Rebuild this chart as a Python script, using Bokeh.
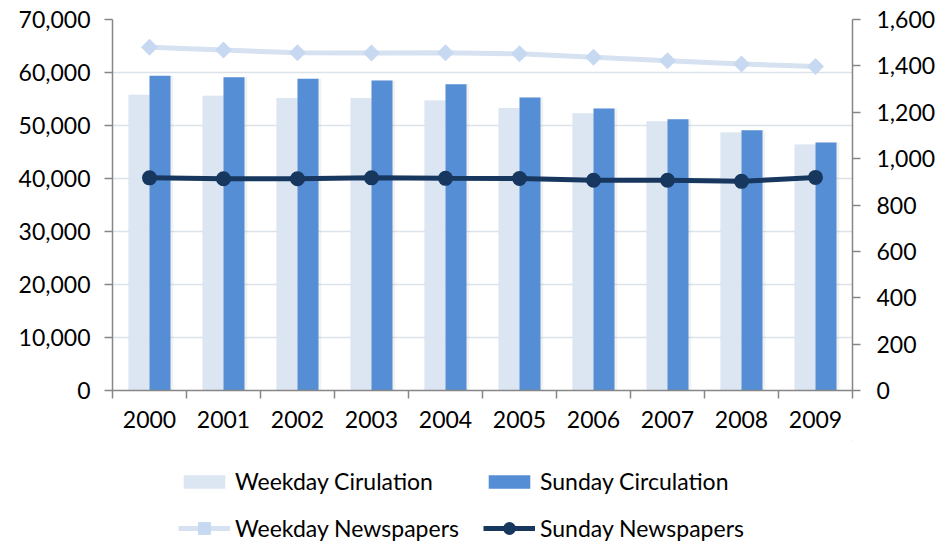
import math
from bokeh.plotting import figure
from bokeh.layouts import column
from bokeh.models import (ColumnDataSource, LinearAxis, Range1d, FixedTicker,
                          NumeralTickFormatter, Legend, LegendItem, Grid)
from bokeh.transform import dodge
from bokeh.embed import file_html
from bokeh.resources import INLINE

# Newspaper circulation (thousands) and number of newspapers, 2000-2009
years = ["2000", "2001", "2002", "2003", "2004", "2005", "2006", "2007", "2008", "2009"]
weekday_circulation = [55800, 55600, 55200, 55200, 54700, 53300, 52300, 50800, 48700, 46400]
sunday_circulation = [59400, 59100, 58800, 58500, 57800, 55300, 53200, 51200, 49100, 46800]
weekday_newspapers = [1480, 1468, 1457, 1456, 1457, 1452, 1437, 1422, 1408, 1397]
sunday_newspapers = [917, 913, 913, 917, 915, 914, 907, 907, 902, 919]

FONT = "Lato"
FS = "23px"
WEEKDAY_BAR = "#DCE6F2"
SUNDAY_BAR = "#558ED5"
WEEKDAY_LINE = "#D6E2F1"
WEEKDAY_MARK = "#C6D9F1"
SUNDAY_LINE = "#17375E"
AXIS = "#868686"
GRID = "#DCE3EB"

x = [i + 0.5 for i in range(len(years))]
src = ColumnDataSource(dict(x=x, wc=weekday_circulation, sc=sunday_circulation,
                            wn=weekday_newspapers, sn=sunday_newspapers))

p = figure(width=942, height=440, output_backend="svg", toolbar_location=None,
           x_range=Range1d(0, len(years)), y_range=Range1d(0, 70000),
           min_border_left=112, min_border_right=90, min_border_top=19,
           min_border_bottom=50, x_axis_type=None, y_axis_type=None)
p.outline_line_color = None
p.background_fill_color = "white"
p.border_fill_color = "white"
p.extra_y_ranges = {"papers": Range1d(0, 1600)}

# axes
xaxis = LinearAxis(ticker=FixedTicker(ticks=x, minor_ticks=list(range(len(years) + 1))),
                   major_label_overrides={xv: y for xv, y in zip(x, years)})
xaxis.major_tick_line_alpha = 0
xaxis.minor_tick_out = 8
xaxis.minor_tick_in = 0
xaxis.major_label_standoff = 12
p.add_layout(xaxis, "below")

yaxis = LinearAxis(ticker=FixedTicker(ticks=list(range(0, 70001, 10000))),
                   formatter=NumeralTickFormatter(format="0,0"))
yaxis.major_tick_out = 8
yaxis.major_tick_in = 0
yaxis.major_label_standoff = 14
p.add_layout(yaxis, "left")

raxis = LinearAxis(y_range_name="papers", ticker=FixedTicker(ticks=list(range(0, 1601, 200))),
                   formatter=NumeralTickFormatter(format="0,0"))
raxis.major_tick_out = 8
raxis.major_tick_in = 0
raxis.major_label_standoff = 16
p.add_layout(raxis, "right")

for ax in (xaxis, yaxis, raxis):
    ax.axis_line_color = AXIS
    ax.axis_line_width = 1.5
    ax.major_tick_line_color = AXIS
    ax.major_tick_line_width = 1.5
    ax.minor_tick_line_color = AXIS if ax is xaxis else None
    ax.minor_tick_line_width = 1.5
    ax.major_label_text_font = FONT
    ax.major_label_text_font_size = FS
    ax.major_label_text_color = "black"

# horizontal gridlines
p.add_layout(Grid(dimension=1, ticker=yaxis.ticker, grid_line_color=GRID, grid_line_width=1.5))

# soft bar shadows
for off, col in ((-0.142, "wc"), (0.142, "sc")):
    p.vbar(x=dodge("x", off + 0.02), top=col, width=0.32, bottom=0, source=src,
           fill_color="#7F7F7F", fill_alpha=0.10, line_color=None)

bar_w = dict(fill_color=WEEKDAY_BAR, line_color=None)
bar_s = dict(fill_color=SUNDAY_BAR, line_color=None)
line_w = dict(line_color=WEEKDAY_LINE, line_width=5)
line_s = dict(line_color=SUNDAY_LINE, line_width=5)
mark_w = dict(marker="square", angle=math.pi / 4, fill_color=WEEKDAY_MARK, line_color=None)
mark_s = dict(marker="circle", fill_color=SUNDAY_LINE, line_color=None)

p.vbar(x=dodge("x", -0.142), top="wc", width=0.284, bottom=0, source=src, **bar_w)
p.vbar(x=dodge("x", 0.142), top="sc", width=0.284, bottom=0, source=src, **bar_s)
p.line("x", "wn", source=src, y_range_name="papers", **line_w)
p.scatter("x", "wn", source=src, y_range_name="papers", size=12, **mark_w)
p.line("x", "sn", source=src, y_range_name="papers", **line_s)
p.scatter("x", "sn", source=src, y_range_name="papers", size=15, **mark_s)

# legend strip underneath the chart; its swatch renderers sit outside the visible range
leg = figure(width=942, height=106, output_backend="svg", toolbar_location=None,
             x_range=Range1d(0, 1), y_range=Range1d(0, 1), min_border=0,
             x_axis_type=None, y_axis_type=None)
leg.outline_line_color = None
leg.xgrid.visible = False
leg.ygrid.visible = False
swatch = ColumnDataSource(dict(x=[5, 6], y=[5, 6], top=[5, 6]))
kw = leg.vbar(x="x", top="top", bottom=4, width=0.1, source=swatch, **bar_w)
ks = leg.vbar(x="x", top="top", bottom=4, width=0.1, source=swatch, **bar_s)
klw = leg.line("x", "y", source=swatch, **line_w)
kmw = leg.scatter("x", "y", source=swatch, size=12, **mark_w)
kls = leg.line("x", "y", source=swatch, **line_s)
kms = leg.scatter("x", "y", source=swatch, size=15, **mark_s)


def make_legend(items, loc, glyph_h):
    lg = Legend(items=items, orientation="horizontal", location=loc)
    lg.border_line_color = None
    lg.background_fill_alpha = 0
    lg.label_text_font = FONT
    lg.label_text_font_size = FS
    lg.label_text_color = "black"
    lg.glyph_width = 52
    lg.glyph_height = glyph_h
    lg.label_standoff = 5
    lg.label_width = 242
    lg.spacing = 6
    lg.padding = 0
    lg.margin = 0
    return lg


leg.add_layout(make_legend([LegendItem(label="Weekday Cirulation", renderers=[kw]),
                            LegendItem(label="Sunday Circulation", renderers=[ks])],
                           (66, 51), 17), "center")
leg.add_layout(make_legend([LegendItem(label="Weekday Newspapers", renderers=[klw, kmw]),
                            LegendItem(label="Sunday Newspapers", renderers=[kls, kms])],
                           (66, 2), 32), "center")

open("out.html", "w").write(file_html(column(p, leg, spacing=0), INLINE))
